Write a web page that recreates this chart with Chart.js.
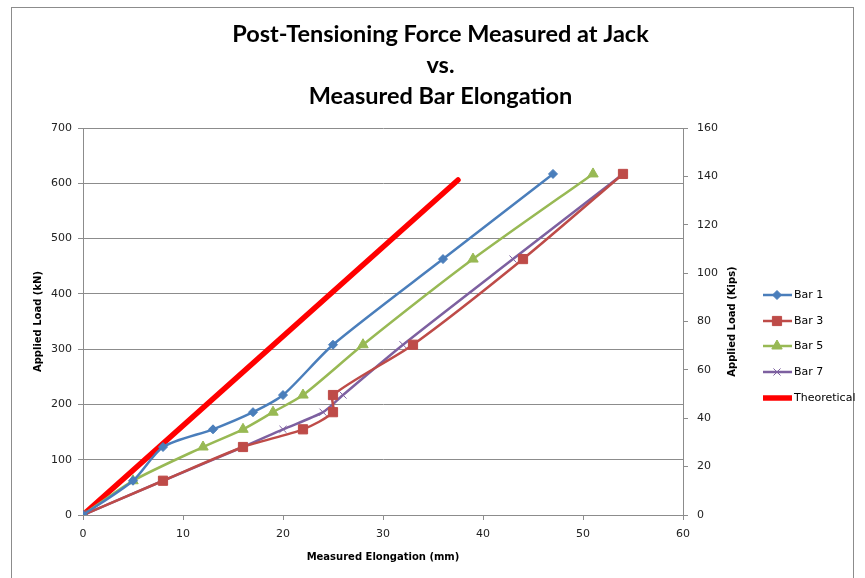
<!DOCTYPE html>
<html lang="en">
<head>
<meta charset="UTF-8">
<title>Post-Tensioning Force vs. Bar Elongation</title>
<style>
    body { margin: 0; background: #fff; }
    #wrap { width: 865px; height: 578px; position: relative; }
</style>
</head>
<body>
<div id="wrap"><canvas id="myChart" width="865" height="578"></canvas></div>

<script src="https://cdn.jsdelivr.net/npm/chart.js"></script>
<script>
    // applied load steps (kN), shared by all bars
    const loads = [0, 62, 123, 155, 186, 217, 308, 463, 617];

    // measured elongation (mm) for each bar
    const bar1 = [0, 5, 8, 13, 17, 20, 25, 36, 47];
    const bar3 = [0, 8, 16, 22, 25, 25, 33, 44, 54];
    const bar5 = [0, 5, 12, 16, 19, 22, 28, 39, 51];
    const bar7 = [0, 8, 16, 20, 24, 26, 32, 43, 54];

    // theoretical line
    const theoX = [0, 37.5];
    const theoY = [0, 606];

    const yTicksKN = [0, 100, 200, 300, 400, 500, 600, 700];
    const yTicksKips = [0, 20, 40, 60, 80, 100, 120, 140, 160];
    const xTicks = [0, 10, 20, 30, 40, 50, 60];

    function pts(xs, ys) {
        return xs.map((x, i) => ({ x: x, y: ys[i] }));
    }

    const tickFont = { family: 'DejaVu Sans', size: 11 };
    const gray = '#8c8c8c';

    // border, right axis title and the legend are drawn here
    const extras = {
        id: 'extras',
        beforeDraw(chart) {
            const ctx = chart.ctx;
            ctx.save();
            ctx.fillStyle = '#fff';
            ctx.fillRect(0, 0, chart.width, chart.height);
            ctx.strokeStyle = gray;
            ctx.lineWidth = 1;
            ctx.strokeRect(11.5, 7.5, 842, 620);
            ctx.restore();
        },
        afterDraw(chart) {
            const ctx = chart.ctx;
            const area = chart.chartArea;
            ctx.save();
            // right axis title
            ctx.translate(732, (area.top + area.bottom) / 2);
            ctx.rotate(-Math.PI / 2);
            ctx.font = 'bold 10px "DejaVu Sans"';
            ctx.fillStyle = '#000';
            ctx.textAlign = 'center';
            ctx.textBaseline = 'middle';
            ctx.fillText('Applied Load (Kips)', 0, 0);
            ctx.restore();

            // legend
            const ys = [295, 321, 346, 372, 398];
            chart.data.datasets.forEach((ds, i) => {
                const y = ys[i];
                ctx.save();
                ctx.strokeStyle = ds.borderColor;
                ctx.lineWidth = ds.borderWidth;
                ctx.beginPath();
                ctx.moveTo(763, y);
                ctx.lineTo(792, y);
                ctx.stroke();
                if (ds.pointRadius > 0) {
                    ctx.fillStyle = ds.pointBackgroundColor;
                    ctx.strokeStyle = ds.pointBorderColor;
                    ctx.lineWidth = ds.pointBorderWidth || 1;
                    Chart.helpers.drawPoint(ctx, {
                        pointStyle: ds.pointStyle,
                        rotation: 0,
                        radius: ds.pointRadius,
                        borderWidth: ds.pointBorderWidth || 1
                    }, 777, y);
                }
                ctx.fillStyle = '#000';
                ctx.font = '11px "DejaVu Sans"';
                ctx.textBaseline = 'middle';
                ctx.fillText(ds.label, 794, y);
                ctx.restore();
            });
        }
    };

    function series(label, data, color, style, radius) {
        return {
            label: label,
            data: data,
            showLine: true,
            borderColor: color,
            backgroundColor: color,
            borderWidth: 2.5,
            pointStyle: style,
            pointRadius: radius,
            pointHoverRadius: radius,
            pointBackgroundColor: color,
            pointBorderColor: color,
            pointBorderWidth: 1,
            tension: 0.25,
            yAxisID: 'y'
        };
    }

    const ctx = document.getElementById('myChart').getContext('2d');
    const myChart = new Chart(ctx, {
        type: 'scatter',
        data: {
            datasets: [
                series('Bar 1', pts(bar1, loads), '#4a7ebb', 'rectRot', 4.5),
                series('Bar 3', pts(bar3, loads), '#be4b48', 'rect', 6.5),
                series('Bar 5', pts(bar5, loads), '#98b954', 'triangle', 6),
                series('Bar 7', pts(bar7, loads), '#7d60a0', 'crossRot', 5),
                {
                    label: 'Theoretical',
                    data: pts(theoX, theoY),
                    showLine: true,
                    borderColor: '#ff0000',
                    backgroundColor: '#ff0000',
                    borderWidth: 5.5,
                    borderCapStyle: 'round',
                    pointRadius: 0,
                    pointHoverRadius: 0,
                    yAxisID: 'y'
                }
            ]
        },
        options: {
            responsive: false,
            animation: false,
            layout: { padding: { left: 16, right: 0, top: 0, bottom: 0 } },
            plugins: {
                legend: { display: false },
                tooltip: { enabled: false },
                title: {
                    display: true,
                    text: ['Post-Tensioning Force Measured at Jack', 'vs.', 'Measured Bar Elongation'],
                    color: '#000',
                    font: { family: 'Lato', size: 23.5, weight: 'bold', lineHeight: 1.32 },
                    padding: { top: 18.5, bottom: 16.5 }
                }
            },
            scales: {
                x: {
                    type: 'linear',
                    min: 0,
                    max: 60,
                    afterBuildTicks: s => { s.ticks = xTicks.map(v => ({ value: v })); },
                    afterFit: s => { s.height = 63; },
                    grid: { drawOnChartArea: false, drawTicks: true, tickLength: 5, color: gray },
                    border: { color: gray },
                    ticks: { font: tickFont, color: '#222', padding: 8, maxRotation: 0 },
                    title: {
                        display: true,
                        text: 'Measured Elongation (mm)',
                        color: '#000',
                        font: { family: 'DejaVu Sans', size: 10, weight: 'bold', lineHeight: 1.2 },
                        padding: { top: 0, bottom: 15 }
                    }
                },
                y: {
                    type: 'linear',
                    position: 'left',
                    min: 0,
                    max: 700,
                    afterBuildTicks: s => { s.ticks = yTicksKN.map(v => ({ value: v })); },
                    afterFit: s => { s.width = 67; },
                    grid: { color: gray, tickLength: 5 },
                    border: { color: gray },
                    ticks: { font: tickFont, color: '#222', padding: 6 },
                    title: {
                        display: true,
                        text: 'Applied Load (kN)',
                        color: '#000',
                        font: { family: 'DejaVu Sans', size: 10, weight: 'bold', lineHeight: 1.2 },
                        padding: { top: 16, bottom: 0 }
                    }
                },
                y2: {
                    type: 'linear',
                    position: 'right',
                    min: 0,
                    max: 160,
                    afterBuildTicks: s => { s.ticks = yTicksKips.map(v => ({ value: v })); },
                    afterFit: s => { s.width = 182; },
                    grid: { drawOnChartArea: false, color: gray, tickLength: 5 },
                    border: { color: gray },
                    ticks: { font: tickFont, color: '#222', padding: 9 }
                }
            }
        },
        plugins: [extras]
    });
</script>
</body>
</html>
